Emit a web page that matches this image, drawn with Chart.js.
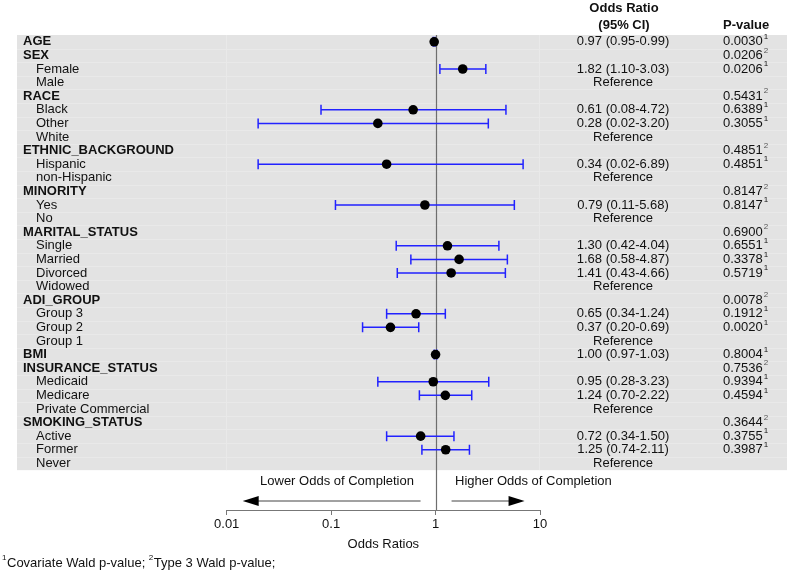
<!DOCTYPE html>
<html>
<head>
<meta charset="utf-8">
<script src="https://cdn.jsdelivr.net/npm/chart.js@4.4.1/dist/chart.umd.min.js"></script>
<style>
  html, body { margin: 0; padding: 0; background: #ffffff; }
  #wrap { width: 787px; height: 582px; position: relative; }
</style>
</head>
<body>
<div id="wrap"><canvas id="c" width="787" height="582"></canvas></div>
<script>
// ---- Data ----
const rowLabels = ["AGE","SEX","Female","Male","RACE","Black","Other","White",
  "ETHNIC_BACKGROUND","Hispanic","non-Hispanic","MINORITY","Yes","No",
  "MARITAL_STATUS","Single","Married","Divorced","Widowed","ADI_GROUP",
  "Group 3","Group 2","Group 1","BMI","INSURANCE_STATUS","Medicaid","Medicare",
  "Private Commercial","SMOKING_STATUS","Active","Former","Never"];
const isHeader = [1,1,0,0,1,0,0,0,1,0,0,1,0,0,1,0,0,0,0,1,0,0,0,1,1,0,0,0,1,0,0,0];
const isReference = [0,0,0,1,0,0,0,1,0,0,1,0,0,1,0,0,0,0,1,0,0,0,1,0,0,0,0,1,0,0,0,1];
const oddsRatio = [0.97,null,1.82,null,null,0.61,0.28,null,null,0.34,null,null,0.79,null,
  null,1.30,1.68,1.41,null,null,0.65,0.37,null,1.00,null,0.95,1.24,null,null,0.72,1.25,null];
const ciLow = [0.95,null,1.10,null,null,0.08,0.02,null,null,0.02,null,null,0.11,null,
  null,0.42,0.58,0.43,null,null,0.34,0.20,null,0.97,null,0.28,0.70,null,null,0.34,0.74,null];
const ciHigh = [0.99,null,3.03,null,null,4.72,3.20,null,null,6.89,null,null,5.68,null,
  null,4.04,4.87,4.66,null,null,1.24,0.69,null,1.03,null,3.23,2.22,null,null,1.50,2.11,null];
const pValue = ["0.0030","0.0206","0.0206","","0.5431","0.6389","0.3055","","0.4851","0.4851","",
  "0.8147","0.8147","","0.6900","0.6551","0.3378","0.5719","","0.0078","0.1912","0.0020","",
  "0.8004","0.7536","0.9394","0.4594","","0.3644","0.3755","0.3987",""];
const pNote = ["1","2","1","","2","1","1","","2","1","","2","1","","2","1","1","1","","2","1","1","",
  "1","2","1","1","","2","1","1",""];
const xTicks = [0.01, 0.1, 1, 10];
const xTickLabels = ["0.01", "0.1", "1", "10"];

const FONT = "'Liberation Sans', Arial, sans-serif";
const nRows = rowLabels.length;

const pointData = [];
for (let i = 0; i < nRows; i++) {
  if (oddsRatio[i] !== null) pointData.push({x: oddsRatio[i], y: i});
}

const forestPlugin = {
  id: 'forest',
  beforeDraw(chart) {
    const ctx = chart.ctx, ys = chart.scales.y, ca = chart.chartArea;
    const top = ys.getPixelForValue(-0.5), bot = ys.getPixelForValue(nRows - 0.5);
    ctx.save();
    ctx.fillStyle = '#e3e3e3';
    ctx.fillRect(17, top, chart.width - 17, bot - top);
    ctx.strokeStyle = '#e9e9e9';
    ctx.lineWidth = 1;
    for (let i = 1; i < nRows; i++) {
      const y = Math.round(ys.getPixelForValue(i - 0.5)) + 0.5;
      ctx.beginPath(); ctx.moveTo(17, y); ctx.lineTo(chart.width, y); ctx.stroke();
    }
    [ca.left, ca.right].forEach(x => {
      ctx.beginPath(); ctx.moveTo(Math.round(x) - 0.5, top); ctx.lineTo(Math.round(x) - 0.5, bot); ctx.stroke();
    });
    ctx.restore();
  },
  beforeDatasetsDraw(chart) {
    const ctx = chart.ctx, xs = chart.scales.x, ys = chart.scales.y, ca = chart.chartArea;
    ctx.save();
    // reference line at OR = 1
    const x1 = Math.round(xs.getPixelForValue(1)) + 0.5;
    ctx.strokeStyle = '#6e6e6e';
    ctx.lineWidth = 1.2;
    ctx.beginPath(); ctx.moveTo(x1, ca.top); ctx.lineTo(x1, ca.bottom); ctx.stroke();
    // CI bars
    ctx.strokeStyle = '#2222ff';
    ctx.lineWidth = 1.5;
    for (let i = 0; i < nRows; i++) {
      if (ciLow[i] === null) continue;
      const y = ys.getPixelForValue(i);
      const a = xs.getPixelForValue(ciLow[i]), b = xs.getPixelForValue(ciHigh[i]);
      ctx.beginPath();
      ctx.moveTo(a, y); ctx.lineTo(b, y);
      ctx.moveTo(a, y - 5); ctx.lineTo(a, y + 5);
      ctx.moveTo(b, y - 5); ctx.lineTo(b, y + 5);
      ctx.stroke();
    }
    ctx.restore();
  },
  afterDraw(chart) {
    const ctx = chart.ctx, xs = chart.scales.x, ys = chart.scales.y;
    ctx.save();
    ctx.textBaseline = 'middle';
    ctx.fillStyle = '#111';
    // row labels, OR text, p-values
    for (let i = 0; i < nRows; i++) {
      const y = ys.getPixelForValue(i);
      ctx.textAlign = 'left';
      ctx.font = (isHeader[i] ? 'bold ' : '') + '13px ' + FONT;
      ctx.fillText(rowLabels[i], isHeader[i] ? 23 : 36, y);
      ctx.font = '13px ' + FONT;
      let txt = '';
      if (oddsRatio[i] !== null) {
        txt = oddsRatio[i].toFixed(2) + ' (' + ciLow[i].toFixed(2) + '-' + ciHigh[i].toFixed(2) + ')';
      } else if (isReference[i]) {
        txt = 'Reference';
      }
      if (txt) { ctx.textAlign = 'center'; ctx.fillText(txt, 623, y); }
      if (pValue[i]) {
        ctx.textAlign = 'left';
        ctx.fillText(pValue[i], 723, y);
        const w = ctx.measureText(pValue[i]).width;
        ctx.font = '8px ' + FONT;
        ctx.fillStyle = pNote[i] === '2' ? '#555' : '#111';
        ctx.fillText(pNote[i], 723 + w + 1, y - 5);
        ctx.fillStyle = '#111';
      }
    }
    // column headers
    ctx.font = 'bold 13px ' + FONT;
    ctx.textAlign = 'center';
    ctx.fillText('Odds Ratio', 624, 8);
    ctx.fillText('(95% CI)', 624, 25);
    ctx.textAlign = 'left';
    ctx.fillText('P-value', 723, 25);

    // direction arrows
    const x1 = xs.getPixelForValue(1);
    const ay = 501;
    ctx.strokeStyle = '#444';
    ctx.fillStyle = '#000';
    ctx.lineWidth = 1;
    const lTip = xs.left + 16, lStart = x1 - 15;
    const rStart = x1 + 16, rTip = x1 + 89;
    ctx.beginPath(); ctx.moveTo(lStart, ay); ctx.lineTo(lTip + 10, ay); ctx.stroke();
    ctx.beginPath(); ctx.moveTo(lTip, ay); ctx.lineTo(lTip + 16, ay - 5); ctx.lineTo(lTip + 16, ay + 5); ctx.closePath(); ctx.fill();
    ctx.beginPath(); ctx.moveTo(rStart, ay); ctx.lineTo(rTip - 10, ay); ctx.stroke();
    ctx.beginPath(); ctx.moveTo(rTip, ay); ctx.lineTo(rTip - 16, ay - 5); ctx.lineTo(rTip - 16, ay + 5); ctx.closePath(); ctx.fill();
    ctx.fillStyle = '#111';
    ctx.font = '13px ' + FONT;
    ctx.textAlign = 'center';
    ctx.fillText('Lower Odds of Completion', 337, 481);
    ctx.textAlign = 'left';
    ctx.fillText('Higher Odds of Completion', 455, 481);

    // footnote
    ctx.font = '8px ' + FONT;
    ctx.fillText('1', 2, 558);
    let fx = 7;
    ctx.font = '13px ' + FONT;
    let t1 = 'Covariate Wald p-value; ';
    ctx.fillText(t1, fx, 563);
    fx += ctx.measureText(t1).width;
    ctx.font = '8px ' + FONT;
    ctx.fillText('2', fx, 558);
    fx += ctx.measureText('2').width + 0.5;
    ctx.font = '13px ' + FONT;
    ctx.fillText('Type 3 Wald p-value;', fx, 563);
    ctx.restore();
  }
};

new Chart(document.getElementById('c'), {
  type: 'scatter',
  data: {
    datasets: [{
      data: pointData,
      backgroundColor: '#000',
      borderColor: '#000',
      borderWidth: 0,
      pointRadius: 4.8,
      pointHoverRadius: 4.8
    }]
  },
  options: {
    responsive: false,
    animation: false,
    events: [],
    layout: { padding: { left: 226.7, right: 247, top: 35, bottom: 0 } },
    plugins: { legend: { display: false }, tooltip: { enabled: false } },
    scales: {
      x: {
        type: 'logarithmic',
        min: 0.01, max: 10,
        afterBuildTicks: (s) => { s.ticks = xTicks.map(v => ({ value: v })); },
        afterFit: (s) => { s.height = 72; },
        ticks: {
          autoSkip: false, maxRotation: 0, padding: 2,
          color: '#111', font: { family: FONT, size: 13 },
          callback: (v) => { const k = xTicks.indexOf(v); return k >= 0 ? xTickLabels[k] : ''; }
        },
        grid: { display: true, drawOnChartArea: false, drawTicks: true, tickLength: 5, color: '#777' },
        border: { display: true, color: '#777' },
        title: { display: true, text: 'Odds Ratios', color: '#111', font: { family: FONT, size: 13 }, padding: { top: 0, bottom: 30 } }
      },
      y: {
        type: 'linear', reverse: true, min: -0.5, max: 34.43, display: false
      }
    }
  },
  plugins: [forestPlugin]
});
</script>
</body>
</html>
